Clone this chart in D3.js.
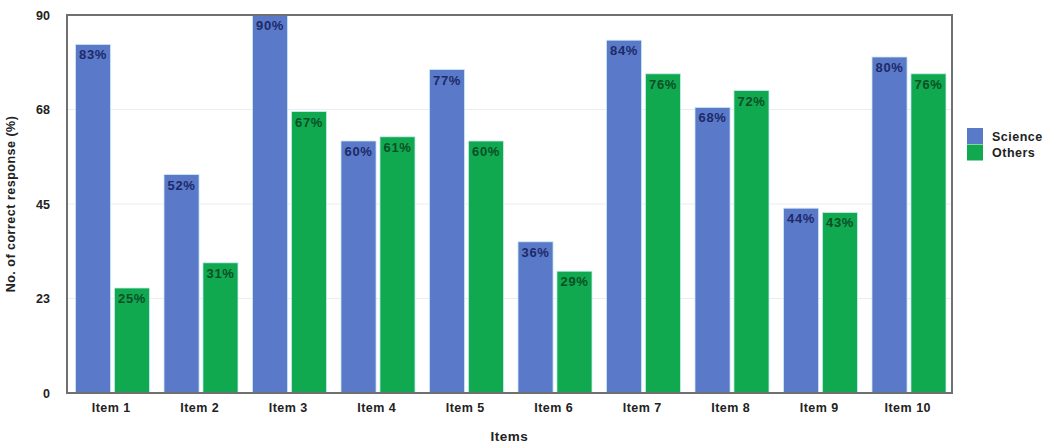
<!DOCTYPE html>
<html><head><meta charset="utf-8">
<script src="https://cdn.jsdelivr.net/npm/d3@7"></script>
<style>
html,body{margin:0;padding:0;background:#fff;}
text{font-family:"Liberation Sans",Arial,Helvetica,sans-serif;font-weight:bold;}
</style></head>
<body>
<svg id="chart" width="1058" height="446"></svg>
<script>
const categories = ["Item 1","Item 2","Item 3","Item 4","Item 5","Item 6","Item 7","Item 8","Item 9","Item 10"];
const seriesNames = ["Science","Others"];
const science = [83,52,90,60,77,36,84,68,44,80];
const others  = [25,31,67,61,60,29,76,72,43,76];
const yTicks = [0,22.5,45,67.5,90];
const yTickLabels = ["0","23","45","68","90"];

const colors = {Science:"#5a79c8", Others:"#10a94f"};
const labelColors = {Science:"#1d2a68", Others:"#0b4f27"};

const svg = d3.select("#chart");
const m = {left:67, right:952, top:15, bottom:393};

const x0 = d3.scaleBand().domain(categories).range([m.left, m.right]).padding(0);
const x1 = d3.scaleBand().domain(seriesNames).range([8.5, 82.5]).paddingInner(0.1);
const y = d3.scaleLinear().domain([0,90]).range([m.bottom, m.top]);

// gridlines
svg.append("g").selectAll("line").data(yTicks.slice(1,-1)).join("line")
  .attr("x1", m.left).attr("x2", m.right)
  .attr("y1", d=>y(d)).attr("y2", d=>y(d))
  .attr("stroke","#ececec").attr("stroke-width",1);

const rows = categories.map((c,i)=>({cat:c, vals:[{s:"Science",v:science[i]},{s:"Others",v:others[i]}]}));

const g = svg.append("g").selectAll("g").data(rows).join("g")
  .attr("transform", d=>`translate(${x0(d.cat)},0)`);

g.selectAll("rect").data(d=>d.vals).join("rect")
  .attr("x", d=>x1(d.s)).attr("width", x1.bandwidth())
  .attr("y", d=>y(d.v)).attr("height", d=>y(0)-y(d.v))
  .attr("fill", d=>colors[d.s])
  .attr("stroke","#c9ecf5").attr("stroke-width",0.8);

g.selectAll("text").data(d=>d.vals).join("text")
  .attr("x", d=>x1(d.s)+x1.bandwidth()/2)
  .attr("y", d=>y(d.v)+15)
  .attr("text-anchor","middle")
  .attr("font-size","13px")
  .attr("letter-spacing","0.6px")
  .attr("fill", d=>labelColors[d.s])
  .text(d=>d.v+"%");

// frame
svg.append("rect").attr("x",m.left).attr("y",m.top)
  .attr("width",m.right-m.left).attr("height",m.bottom-m.top)
  .attr("fill","none").attr("stroke","#707070").attr("stroke-width",2);

// y axis
const yAxis = d3.axisLeft(y).tickValues(yTicks).tickSize(0).tickPadding(17)
  .tickFormat((d,i)=>yTickLabels[i]);
const ya = svg.append("g").attr("transform",`translate(${m.left},0)`).call(yAxis);
ya.select(".domain").remove();
ya.selectAll("text").attr("font-size","12.5px").attr("fill","#222")
  .attr("font-family","Liberation Sans, Arial, sans-serif").attr("font-weight","bold");

// x axis
const xAxis = d3.axisBottom(x0).tickSize(0).tickPadding(10);
const xa = svg.append("g").attr("transform",`translate(0,${m.bottom})`).call(xAxis);
xa.select(".domain").remove();
xa.selectAll("text").attr("font-size","12.5px").attr("fill","#222").attr("letter-spacing","0.5px")
  .attr("font-family","Liberation Sans, Arial, sans-serif").attr("font-weight","bold");

// axis titles
svg.append("text").attr("x",(m.left+m.right)/2).attr("y",441)
  .attr("text-anchor","middle").attr("font-size","13.5px").attr("fill","#222").attr("letter-spacing","0.5px")
  .text("Items");
svg.append("text").attr("transform",`translate(15,${(m.top+m.bottom)/2}) rotate(-90)`)
  .attr("text-anchor","middle").attr("font-size","12.5px").attr("fill","#222").attr("letter-spacing","0.5px")
  .text("No. of correct response (%)");

// legend
const lg = svg.append("g").selectAll("g").data(seriesNames).join("g")
  .attr("transform",(d,i)=>`translate(967,${128+i*16.5})`);
lg.append("rect").attr("width",16).attr("height",16).attr("fill",d=>colors[d]);
lg.append("text").attr("x",25).attr("y",12.5).attr("font-size","12.5px").attr("fill","#222")
  .attr("letter-spacing","0.5px").text(d=>d);
</script>
</body></html>
